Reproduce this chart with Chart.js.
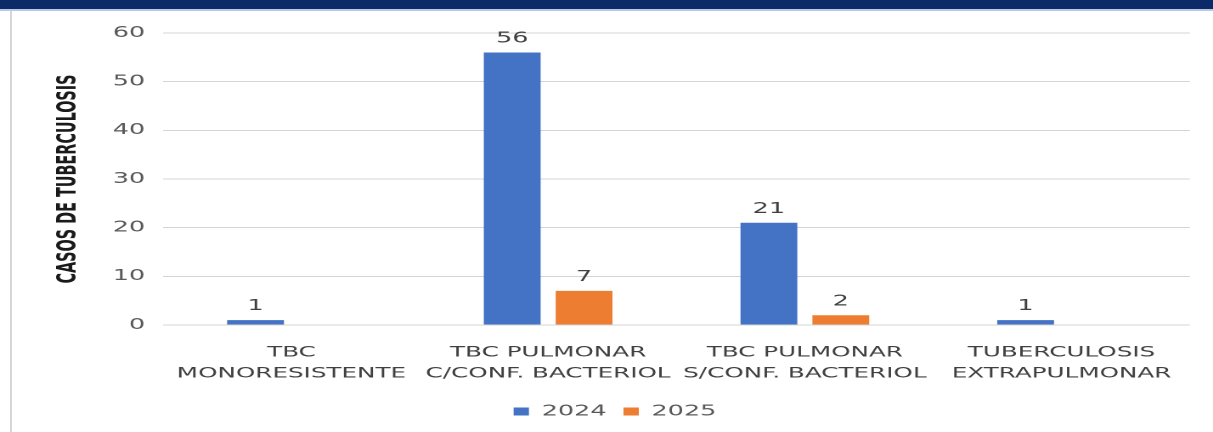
<!DOCTYPE html>
<html>
<head>
<meta charset="utf-8">
<script src="https://cdn.jsdelivr.net/npm/chart.js@4"></script>
<style>
  html, body { margin: 0; padding: 0; background: #fff; }
  #wrap { position: relative; width: 1213px; height: 432px; overflow: hidden; }
  #banner { position: absolute; left: 0; top: 0; width: 1213px; height: 9px; background: #0c2a68; border-bottom: 2px solid #b9c8e6; }
  #edge { position: absolute; left: 10px; top: 11px; width: 2px; height: 421px; background: #d6d6d6; }
  #chart { position: absolute; left: 0; top: 0; transform-origin: 0 0; }
</style>
</head>
<body>
<div id="wrap">
  <canvas id="chart"></canvas>
  <div id="banner"></div>
  <div id="edge"></div>
</div>
<script>
// source is stretched sideways, so draw narrow and widen with css
const W = 714, H = 432;
const STRETCH = 1213 / W;

const categories = [
    ["TBC", "MONORESISTENTE"],
    ["TBC PULMONAR", "C/CONF. BACTERIOL"],
    ["TBC PULMONAR", "S/CONF. BACTERIOL"],
    ["TUBERCULOSIS", "EXTRAPULMONAR"]
];
const seriesNames = ["2024", "2025"];
const cases2024 = [1, 56, 21, 1];
const cases2025 = [null, 7, 2, null];
const yTicks = [0, 10, 20, 30, 40, 50, 60];

const canvas = document.getElementById("chart");
canvas.width = W;
canvas.height = H;
canvas.style.transform = "scaleX(" + STRETCH + ")";

// values above each bar
const barValues = {
    id: "barValues",
    afterDatasetsDraw(chart) {
        const ctx = chart.ctx;
        ctx.save();
        ctx.font = "15px 'DejaVu Sans'";
        ctx.fillStyle = "#404040";
        ctx.textAlign = "center";
        ctx.textBaseline = "alphabetic";
        chart.data.datasets.forEach((ds, i) => {
            chart.getDatasetMeta(i).data.forEach((bar, j) => {
                if (ds.data[j] == null) return;
                ctx.fillText(String(ds.data[j]), bar.x, bar.y - 10);
            });
        });
        ctx.restore();
    }
};

new Chart(canvas, {
    type: "bar",
    data: {
        labels: categories,
        datasets: [
            { label: seriesNames[0], data: cases2024, backgroundColor: "#4472c4" },
            { label: seriesNames[1], data: cases2025, backgroundColor: "#ed7d31" }
        ]
    },
    options: {
        responsive: false,
        animation: false,
        devicePixelRatio: 2,
        categoryPercentage: 0.56,
        barPercentage: 0.79,
        layout: { padding: { left: 23.6, right: 13.6, top: 33, bottom: 3 } },
        scales: {
            x: {
                grid: { display: false, drawTicks: false },
                border: { display: false },
                ticks: {
                    autoSkip: false,
                    maxRotation: 0,
                    minRotation: 0,
                    padding: 17,
                    color: "#404040",
                    font: { family: "'DejaVu Sans'", size: 14.5, lineHeight: 1.45 }
                },
                afterFit(scale) { scale.height = 69; }
            },
            y: {
                min: 0,
                max: 60,
                afterBuildTicks(scale) { scale.ticks = yTicks.map(v => ({ value: v })); },
                grid: { color: "#d4d4d4", lineWidth: 1, drawTicks: false },
                border: { display: false },
                ticks: {
                    padding: 10.6,
                    color: "#595959",
                    font: { family: "'DejaVu Sans'", size: 15 }
                },
                title: {
                    display: true,
                    text: "CASOS DE TUBERCULOSIS",
                    color: "#1a1a1a",
                    padding: { top: 7, bottom: 0 },
                    font: { family: "'Liberation Sans Narrow', 'DejaVu Sans Condensed', sans-serif", size: 16, weight: "bold" }
                },
                afterFit(scale) { scale.width = 72.4; }
            }
        },
        plugins: {
            legend: {
                position: "bottom",
                labels: {
                    boxWidth: 9,
                    boxHeight: 8,
                    padding: 10,
                    color: "#595959",
                    font: { family: "'DejaVu Sans'", size: 15 }
                }
            },
            tooltip: { enabled: false }
        }
    },
    plugins: [barValues]
});
</script>
</body>
</html>
